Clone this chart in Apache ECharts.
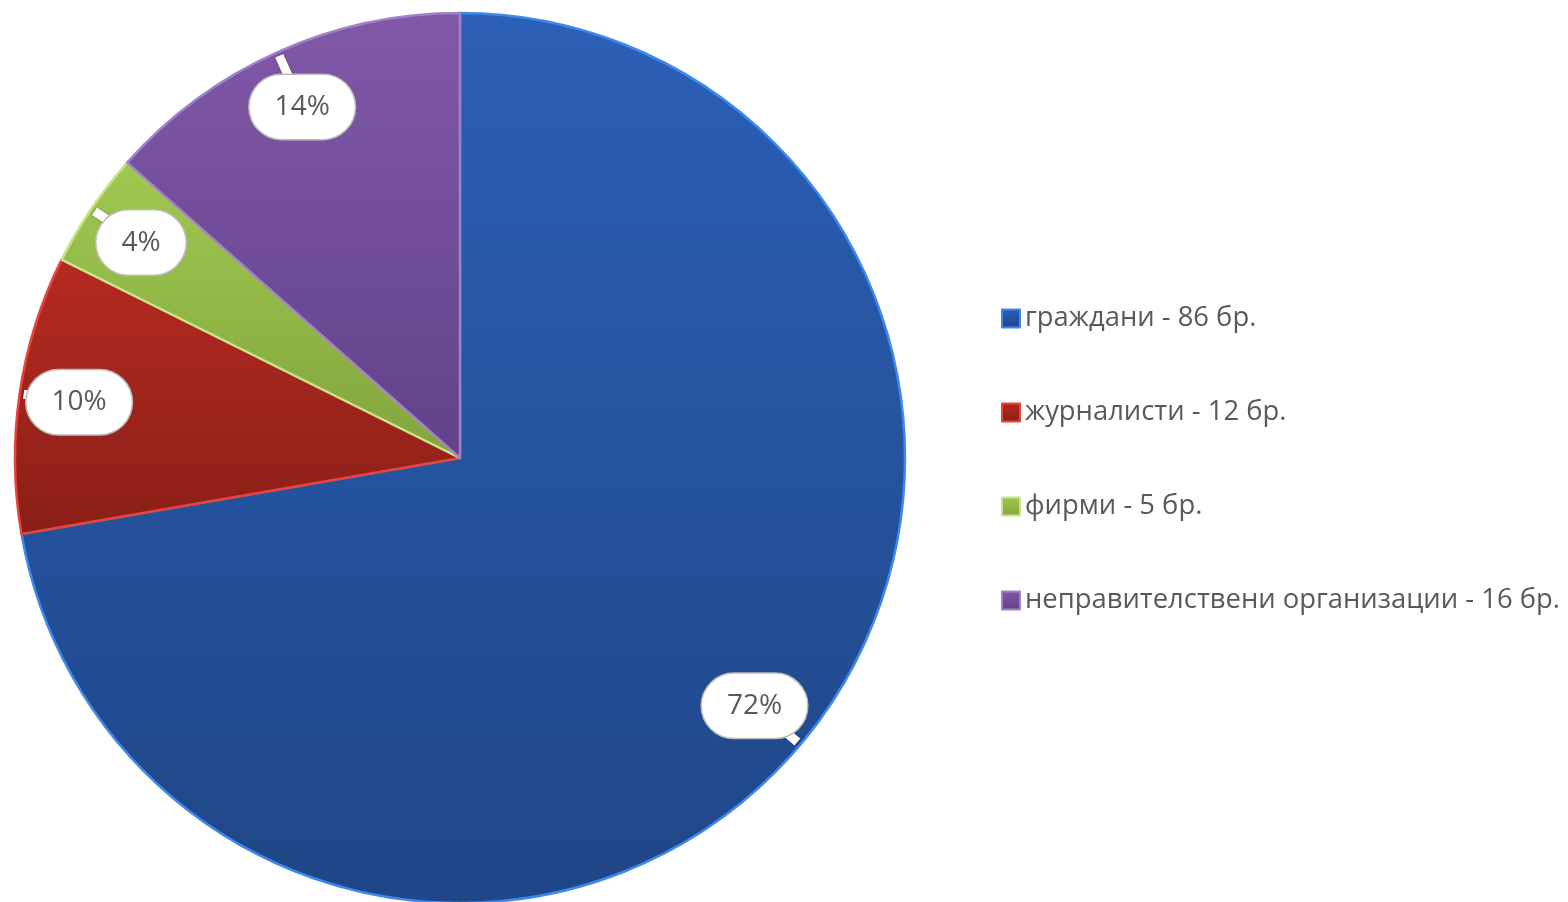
<!DOCTYPE html>
<html>
<head>
<meta charset="utf-8">
<script src="https://cdn.jsdelivr.net/npm/echarts@6/dist/echarts.min.js"></script>
<style>
html,body{margin:0;padding:0;background:#fff;}
#chart{width:1568px;height:902px;}
</style>
</head>
<body>
<div id="chart"></div>
<script>
const categories = ['граждани - 86 бр.', 'журналисти - 12 бр.', 'фирми - 5 бр.', 'неправителствени организации - 16 бр.'];
const values = [86, 12, 5, 16];
const topColors = ['#2b60b6', '#b52a20', '#a0c850', '#8059a8'];
const bottomColors = ['#1f4686', '#8a1f17', '#82a53c', '#62428a'];
const edgeColors = ['#3f88f0', '#e8443a', '#c6e58a', '#a182c8'];

const CX = 460, CY = 458, R = 445;
const LABEL_R = R * 0.865;
const FONT = '"Open Sans", "Noto Sans", sans-serif';

const total = values.reduce((a, b) => a + b, 0);
const midAngles = [];
(function () {
  let acc = 0;
  for (let i = 0; i < values.length; i++) {
    const a0 = Math.PI / 2 - acc / total * 2 * Math.PI;
    acc += values[i];
    const a1 = Math.PI / 2 - acc / total * 2 * Math.PI;
    midAngles.push((a0 + a1) / 2);
  }
})();

const mainData = categories.map((name, i) => ({
  name: name,
  value: values[i],
  itemStyle: {
    color: {
      type: 'linear', x: 0, y: 0, x2: 0, y2: 1,
      colorStops: [{ offset: 0, color: topColors[i] }, { offset: 1, color: bottomColors[i] }]
    },
    borderColor: edgeColors[i]
  }
}));
const plainData = categories.map((name, i) => ({ name: name, value: values[i] }));

const chart = echarts.init(document.getElementById('chart'));
chart.setOption({
  animation: false,
  backgroundColor: '#ffffff',
  legend: {
    orient: 'vertical',
    left: 996,
    top: 300,
    itemWidth: 18,
    itemHeight: 18,
    itemGap: 67,
    icon: 'rect',
    data: categories,
    selectedMode: false,
    textStyle: { fontFamily: FONT, fontSize: 27.4, color: '#595959', lineHeight: 26 }
  },
  series: [{
    type: 'pie',
    z: 2,
    center: [CX, CY],
    radius: R,
    startAngle: 90,
    clockwise: true,
    data: mainData,
    itemStyle: { borderWidth: 2.5 },
    emphasis: { disabled: true },
    label: { show: false },
    labelLine: { show: false }
  }, {
    // callout pointers
    type: 'pie',
    z: 3,
    silent: true,
    center: [CX, CY],
    radius: LABEL_R,
    startAngle: 90,
    clockwise: true,
    avoidLabelOverlap: false,
    data: plainData,
    itemStyle: { color: 'rgba(0,0,0,0)', borderWidth: 0 },
    emphasis: { disabled: true },
    label: { show: true, position: 'outside', formatter: '.', color: 'rgba(0,0,0,0)', fontSize: 4, distanceToLabelLine: 0 },
    labelLine: {
      show: true,
      length: R - LABEL_R - 4,
      length2: 0,
      smooth: false,
      lineStyle: { color: '#ffffff', width: 9, cap: 'butt', shadowColor: 'rgba(0,0,0,0.45)', shadowBlur: 2 }
    }
  }, {
    // callout bubbles
    type: 'pie',
    z: 4,
    silent: true,
    center: [CX, CY],
    radius: R,
    startAngle: 90,
    clockwise: true,
    percentPrecision: 0,
    avoidLabelOverlap: false,
    data: plainData,
    itemStyle: { color: 'rgba(0,0,0,0)', borderWidth: 0 },
    emphasis: { disabled: true },
    label: {
      show: true,
      position: 'outside',
      formatter: '{d}%',
      fontFamily: FONT,
      fontSize: 28,
      lineHeight: 30,
      color: '#595959',
      backgroundColor: '#ffffff',
      borderColor: '#bdbdbd',
      borderWidth: 1.5,
      borderRadius: 40,
      padding: [17, 25]
    },
    labelLine: { show: false },
    labelLayout: function (params) {
      const a = midAngles[params.dataIndex];
      return {
        x: CX + Math.cos(a) * LABEL_R,
        y: CY - Math.sin(a) * LABEL_R,
        align: 'center',
        verticalAlign: 'middle'
      };
    }
  }]
});
</script>
</body>
</html>
